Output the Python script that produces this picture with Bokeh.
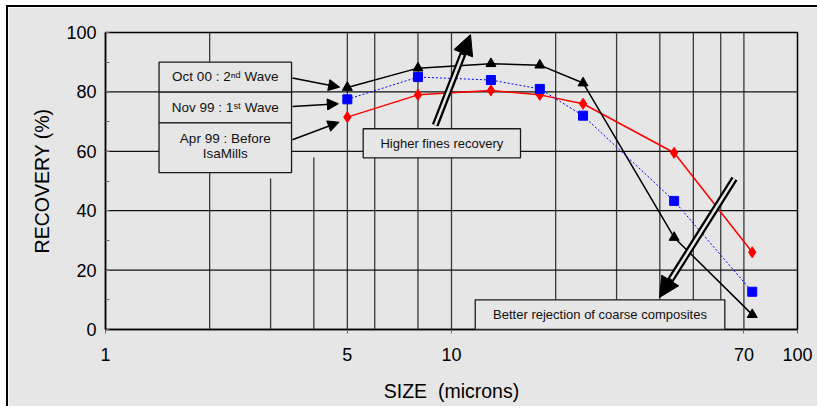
from bokeh.plotting import figure
from bokeh.models import (Range1d, FixedTicker, PrintfTickFormatter, Span, BoxAnnotation,
                          Label, Arrow, NormalHead)
from bokeh.embed import file_html
from bokeh.resources import INLINE

# ---- data ----
SIZES = [5, 8, 13, 18, 24, 44, 74]
OCT00 = [81.5, 88, 89.5, 89, 83, 31, 5]        # Oct 00 : 2nd Wave (black triangles)
NOV99 = [77.5, 85, 84, 81, 72, 43.3, 12.7]     # Nov 99 : 1st Wave (blue squares)
APR99 = [71.5, 79, 80.5, 79, 76, 59.5, 26]     # Apr 99 : Before IsaMills (red diamonds)

X_TICKS = [1, 5, 10, 70, 100]
Y_TICKS = [0, 20, 40, 60, 80, 100]
Y_MINOR = [10, 30, 50, 70, 90]
GRID_X = [2, 3, 4, 5, 6, 8, 10, 20, 30, 40, 50, 60, 70]
GRID_X_TOP = [100, 50.8, 57.9, 100, 100, 100, 100, 100, 100, 100, 100, 100, 100]
GRID_Y = [20, 40, 60, 80]

BG = "#e6e6e6"
FONT = "Liberation Sans"

p = figure(width=811, height=401, x_axis_type="log",
           x_range=Range1d(1, 100), y_range=Range1d(0, 100),
           output_backend="svg", toolbar_location=None,
           min_border_left=97, min_border_right=22, min_border_top=25, min_border_bottom=79,
           background_fill_color=BG, border_fill_color=BG)
p.styles = {"margin-left": "6px", "margin-top": "5px",
            "border-top": "2px solid black", "border-left": "2px solid black"}
p.xgrid.visible = False
p.ygrid.visible = False
p.outline_line_color = "black"
p.outline_line_width = 1.5

# grid
p.segment(x0=GRID_X, y0=[0] * len(GRID_X), x1=GRID_X, y1=GRID_X_TOP,
          line_color="#3a3a3a", line_width=1.3, level="underlay")
for gy in GRID_Y:
    p.add_layout(Span(location=gy, dimension="width", line_color="#111111",
                      line_width=1.3, level="underlay"))

# axes
xa = p.xaxis[0]
ya = p.yaxis[0]
for ax in (xa, ya):
    ax.axis_line_color = "black"
    ax.axis_line_width = 1.5
    ax.major_label_text_font = FONT
    ax.major_label_text_font_size = "18px"
    ax.major_label_text_color = "black"
    ax.axis_label_text_font = FONT
    ax.axis_label_text_font_size = "19.5px"
    ax.axis_label_text_font_style = "normal"
    ax.axis_label_text_color = "black"

xa.ticker = FixedTicker(ticks=X_TICKS, minor_ticks=[])
xa.formatter = PrintfTickFormatter(format="%d")
xa.major_tick_in = 0
xa.major_tick_out = 4
xa.major_tick_line_color = "#666666"
xa.major_label_standoff = 14
xa.axis_label = "SIZE \u00a0(microns)"
xa.axis_label_standoff = 16

ya.ticker = FixedTicker(ticks=Y_TICKS, minor_ticks=Y_MINOR)
ya.major_tick_in = 4
ya.major_tick_out = 0
ya.minor_tick_in = 4
ya.minor_tick_out = 0
ya.major_tick_line_color = "#666666"
ya.minor_tick_line_color = "#666666"
ya.major_label_standoff = 9
ya.axis_label = "RECOVERY (%)"
ya.axis_label_standoff = 10

# series
p.line(SIZES, APR99, line_color="#ff0000", line_width=1.5)
p.scatter(SIZES, APR99, marker="diamond", size=11, color="#ff0000")
p.line(SIZES, OCT00, line_color="black", line_width=1.5)
p.scatter(SIZES, OCT00, marker="triangle", size=10, color="black")
p.line(SIZES, NOV99, line_color="#0000ff", line_width=1, line_dash="2 2")
p.scatter(SIZES, NOV99, marker="square", size=9, color="#0000ff")


def box(l, r, t, b, lw=1.3):
    p.add_layout(BoxAnnotation(left=l, right=r, top=t, bottom=b,
                               fill_color=BG, fill_alpha=1,
                               line_color="#1a1a1a", line_alpha=1, line_width=lw))


def label(x, y, text, size="13.5px"):
    p.add_layout(Label(x=x, y=y, text=text, text_font=FONT, text_font_size=size,
                       text_align="center", text_baseline="middle", text_color="#111111"))


# legend callout boxes
box(1.428, 3.449, 90.0, 79.9)
box(1.428, 3.449, 79.9, 69.6)
box(1.428, 3.449, 69.6, 52.8)
label(2.219, 85.1, "Oct 00 : 2\u207f\u1d48 Wave")
label(2.219, 74.7, "Nov 99 : 1\u02e2\u1d57 Wave")
label(2.219, 64.4, "Apr 99 : Before")
label(2.219, 59.3, "IsaMills")

# legend arrows
for (xs, ys, xe, ye) in [(3.47, 84.7, 4.75, 81.6), (3.47, 75.1, 4.71, 76.0), (3.47, 63.9, 4.73, 69.8)]:
    p.add_layout(Arrow(x_start=xs, y_start=ys, x_end=xe, y_end=ye, line_color="black",
                       line_width=1.5,
                       end=NormalHead(size=11, fill_color="black", line_color="black")))

# comment boxes
box(5.556, 15.83, 67.6, 57.8)
label(9.378, 62.7, "Higher fines recovery", "13px")
box(11.71, 61.65, 10.0, 0.0)
label(26.87, 5.1, "Better rejection of coarse composites", "13px")

# double-shaft arrows
for (xs, ys, xe, ye, xi, yi) in [(8.973, 68.8, 11.35, 99.3, 10.76, 92.4),
                                 (65.75, 50.8, 39.92, 10.8, 43.15, 17.0)]:
    p.add_layout(Arrow(x_start=xs, y_start=ys, x_end=xe, y_end=ye, line_color="black",
                       line_width=7,
                       end=NormalHead(size=20, fill_color="black", line_color="black")))
    p.add_layout(Arrow(x_start=xs, y_start=ys, x_end=xi, y_end=yi, line_color=BG,
                       line_width=2.5, end=None))

open("out.html", "w").write(file_html(p, INLINE))
